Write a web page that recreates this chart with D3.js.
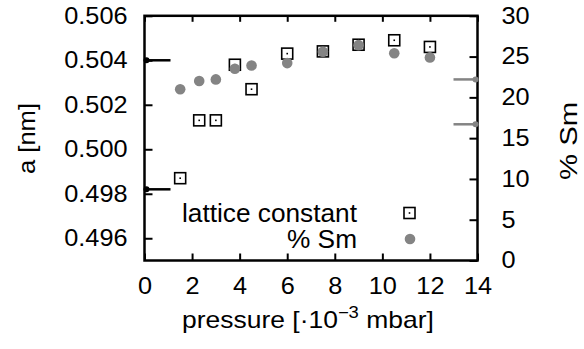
<!DOCTYPE html>
<html>
<head>
<meta charset="utf-8">
<script src="https://cdn.jsdelivr.net/npm/d3@7"></script>
<style>
  body { margin: 0; background: #fff; }
  text { font-family: "Liberation Sans", Arial, sans-serif; fill: #000; }
</style>
</head>
<body>
<svg width="584" height="349"></svg>
<script>
// pressure [10^-3 mbar]
const pressure = [1.5, 2.3, 3.0, 3.8, 4.5, 6.0, 7.5, 9.0, 10.5, 12.0];
const lattice = [0.4987, 0.5013, 0.5013, 0.5038, 0.5027, 0.5043, 0.5044, 0.5047, 0.5049, 0.5046];
const smPercent = [21.0, 22.0, 22.2, 23.5, 23.9, 24.2, 25.6, 26.4, 25.4, 24.9];
// reference markers on the axes
const latticeRefs = [0.504, 0.4982];
const smRefs = [22.2, 16.7];

const xTicks = d3.range(0, 15, 2);
const yLeftTicks = [0.496, 0.498, 0.500, 0.502, 0.504, 0.506];
const yRightTicks = d3.range(0, 31, 5);

const grey = "#848484";
const svg = d3.select("svg");

const x = d3.scaleLinear().domain([0, 14]).range([144.5, 477.5]);
const yL = d3.scaleLinear().domain([0.495, 0.506]).range([260.5, 15.8]);
const yR = d3.scaleLinear().domain([0, 30]).range([260.5, 15.8]);

const fs = 23;
const sx = 1.1; // the glyphs are a bit wider than Liberation Sans

// frame
svg.append("rect")
  .attr("x", x(0)).attr("y", yL(0.506))
  .attr("width", x(14) - x(0)).attr("height", yL(0.495) - yL(0.506))
  .attr("fill", "none").attr("stroke", "#000").attr("stroke-width", 2.5);

// bottom axis
const xAxis = svg.append("g").attr("transform", `translate(0,${yL(0.495)})`);
xAxis.call(d3.axisBottom(x).tickValues(d3.range(1, 14, 2)).tickSize(-4).tickFormat(""));
xAxis.call(d3.axisBottom(x).tickValues(xTicks).tickSize(-7).tickFormat(d3.format("d")));
xAxis.selectAll(".domain").remove();
xAxis.selectAll("line").attr("stroke", "#000").attr("stroke-width", 2);
xAxis.selectAll("text").attr("font-size", fs).attr("y", 17).attr("dy", "0.71em")
  .attr("transform", `scale(${sx},1)`);

// top axis ticks
const xTop = svg.append("g").attr("transform", `translate(0,${yL(0.506)})`);
xTop.call(d3.axisTop(x).tickValues(d3.range(1, 14, 2)).tickSize(-3).tickFormat(""));
xTop.call(d3.axisTop(x).tickValues(xTicks).tickSize(-6).tickFormat(""));
xTop.selectAll(".domain").remove();
xTop.selectAll("line").attr("stroke", "#000").attr("stroke-width", 2);

// left axis
const yAxisL = svg.append("g").attr("transform", `translate(${x(0)},0)`);
yAxisL.call(d3.axisLeft(yL).tickValues(d3.range(0.495, 0.5065, 0.001)).tickSize(-4).tickFormat(""));
yAxisL.call(d3.axisLeft(yL).tickValues(yLeftTicks).tickSize(-8).tickFormat(d3.format(".3f")));
yAxisL.selectAll(".domain").remove();
yAxisL.selectAll("line").attr("stroke", "#000").attr("stroke-width", 2);
yAxisL.selectAll("text").attr("font-size", fs).attr("x", -17 / sx)
  .attr("transform", `scale(${sx},1)`);

// right axis
const yAxisR = svg.append("g").attr("transform", `translate(${x(14)},0)`);
yAxisR.call(d3.axisRight(yR).tickValues(d3.range(0, 31, 1)).tickSize(-4).tickFormat(""));
yAxisR.call(d3.axisRight(yR).tickValues(yRightTicks).tickSize(-8).tickFormat(d3.format("d")));
yAxisR.selectAll(".domain").remove();
yAxisR.selectAll("line").attr("stroke", "#000").attr("stroke-width", 2);
yAxisR.selectAll("text").attr("font-size", fs).attr("x", 24 / sx)
  .attr("transform", `scale(${sx},1)`);

// reference arrows
svg.append("g").selectAll("g").data(latticeRefs).join("g").each(function (d) {
  const g = d3.select(this);
  g.append("line").attr("x1", x(0)).attr("x2", x(0) + 26).attr("y1", yL(d)).attr("y2", yL(d))
    .attr("stroke", "#000").attr("stroke-width", 2.5);
  g.append("circle").attr("cx", x(0) + 2).attr("cy", yL(d)).attr("r", 3).attr("fill", "#000");
});
svg.append("g").selectAll("g").data(smRefs).join("g").each(function (d) {
  const g = d3.select(this);
  g.append("line").attr("x1", x(14) - 24).attr("x2", x(14)).attr("y1", yR(d)).attr("y2", yR(d))
    .attr("stroke", grey).attr("stroke-width", 2.5);
  g.append("circle").attr("cx", x(14) - 2).attr("cy", yR(d)).attr("r", 3).attr("fill", grey);
});

// series
const pts = pressure.map((p, i) => ({ p, a: lattice[i], s: smPercent[i] }));

function square(g, cx, cy) {
  g.append("rect").attr("x", cx - 5.5).attr("y", cy - 5.5).attr("width", 11).attr("height", 11)
    .attr("fill", "none").attr("stroke", "#000").attr("stroke-width", 1.6);
  g.append("rect").attr("x", cx - 0.8).attr("y", cy - 0.8).attr("width", 1.6).attr("height", 1.6)
    .attr("fill", "#000");
}

const sq = svg.append("g");
pts.forEach(d => square(sq, x(d.p), yL(d.a)));

svg.append("g").selectAll("circle").data(pts).join("circle")
  .attr("cx", d => x(d.p)).attr("cy", d => yR(d.s)).attr("r", 5.3).attr("fill", grey);

// stretch a start-anchored text to a given length
function fit(t, len) {
  return t.attr("textLength", len).attr("lengthAdjust", "spacingAndGlyphs");
}

// legend
const leg = svg.append("g");
fit(leg.append("text").attr("x", 182).attr("y", 213).attr("dy", "0.35em")
  .attr("font-size", 25).text("lattice constant"), 175);
square(leg, 409.5, 213);
fit(leg.append("text").attr("x", 287).attr("y", 239).attr("dy", "0.35em")
  .attr("font-size", 25).text("% Sm"), 70);
leg.append("circle").attr("cx", 410).attr("cy", 239).attr("r", 5.3).attr("fill", grey);

// axis titles
const xg = svg.append("g");
const xt = xg.append("text").attr("x", 0).attr("y", 0).attr("font-size", fs);
xt.append("tspan").text("pressure [·10");
xt.append("tspan").attr("dy", -10).attr("font-size", 16).text("−3");
xt.append("tspan").attr("dy", 10).text(" mbar]");
const xw = xt.node().getBBox().width;
xg.attr("transform", `translate(182,328) scale(${252 / xw},1)`);

fit(svg.append("text").attr("transform", "translate(35,174) rotate(-90)")
  .attr("font-size", 24).text("a [nm]"), 71);
fit(svg.append("text").attr("transform", "translate(577,180) rotate(-90)")
  .attr("font-size", 24).text("% Sm"), 78);
</script>
</body>
</html>
